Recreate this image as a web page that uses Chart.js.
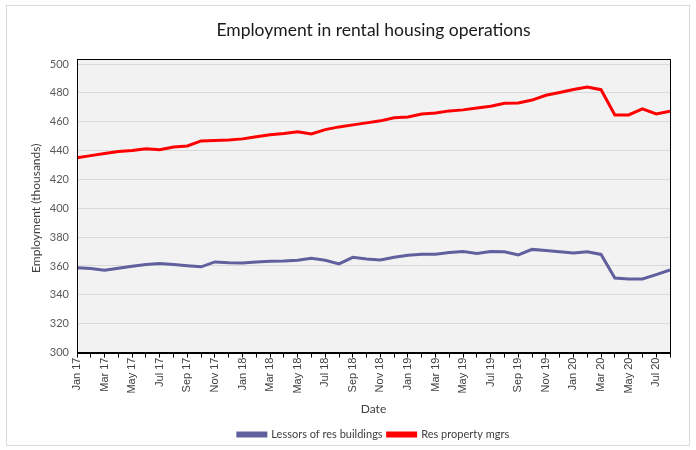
<!DOCTYPE html>
<html lang="en">
<head>
  <meta charset="UTF-8">
  <title>Employment in rental housing operations</title>
  <script src="https://cdn.jsdelivr.net/npm/chart.js"></script>
  <style>
    body {
      margin: 0;
      background-color: #ffffff;
    }
    canvas {
      display: block;
    }
  </style>
</head>
<body>

  <canvas id="empChart" width="696" height="450"></canvas>

  <script>
    const months = [
      "Jan 17", "Feb 17", "Mar 17", "Apr 17", "May 17", "Jun 17", "Jul 17", "Aug 17", "Sep 17", "Oct 17", "Nov 17", "Dec 17",
      "Jan 18", "Feb 18", "Mar 18", "Apr 18", "May 18", "Jun 18", "Jul 18", "Aug 18", "Sep 18", "Oct 18", "Nov 18", "Dec 18",
      "Jan 19", "Feb 19", "Mar 19", "Apr 19", "May 19", "Jun 19", "Jul 19", "Aug 19", "Sep 19", "Oct 19", "Nov 19", "Dec 19",
      "Jan 20", "Feb 20", "Mar 20", "Apr 20", "May 20", "Jun 20", "Jul 20", "Aug 20"
    ];

    const lessors = [
      358.8, 358.2, 357, 358.4, 359.8, 361, 361.7, 361, 360.2, 359.4, 362.8, 362.2,
      362, 362.7, 363.3, 363.4, 364, 365.3, 364, 361.4, 366, 364.8, 364.1, 366,
      367.4, 368.2, 368.2, 369.3, 370, 368.7, 370, 369.8, 367.6, 371.5, 370.8, 369.8,
      369, 369.8, 368, 351.7, 351, 351, 354, 357.2
    ];

    const propertyMgrs = [
      435, 436.5, 438, 439.3, 440, 441.2, 440.5, 442.5, 443.2, 446.7, 447, 447.4,
      448.1, 449.5, 450.9, 451.8, 453.1, 451.5, 454.5, 456.4, 457.8, 459.2, 460.6, 462.8,
      463.3, 465.4, 466, 467.5, 468.2, 469.5, 470.7, 472.8, 473, 475, 478.3, 480.2,
      482.3, 484, 482.2, 464.7, 464.7, 468.9, 465.4, 467.2
    ];

    const yMin = 300;
    const yMax = 500;
    const yStep = 20;

    // grey plot area (reaches a little above 500), black box, light outer border
    const frame = {
      id: 'frame',
      beforeDraw(chart) {
        const { ctx, chartArea: a } = chart;
        ctx.save();
        ctx.fillStyle = '#f2f2f2';
        ctx.fillRect(a.left, a.top - 5, a.right - a.left, a.bottom - a.top + 5);
        ctx.restore();
      },
      afterDraw(chart) {
        const { ctx, chartArea: a } = chart;
        ctx.save();
        ctx.strokeStyle = '#000000';
        ctx.lineWidth = 1;
        ctx.strokeRect(Math.round(a.left) + 0.5, Math.round(a.top - 5) + 0.5,
          Math.round(a.right - a.left), Math.round(a.bottom - a.top + 5));
        ctx.strokeStyle = '#d9d9d9';
        ctx.strokeRect(6.5, 5.5, 683, 440);
        ctx.restore();
      }
    };

    const ctx = document.getElementById('empChart').getContext('2d');

    const empChart = new Chart(ctx, {
      type: 'line',
      data: {
        labels: months,
        datasets: [{
          label: 'Lessors of res buildings',
          data: lessors,
          borderColor: '#60609e',
          backgroundColor: '#60609e',
          borderWidth: 3,
          pointRadius: 0,
          tension: 0
        }, {
          label: 'Res property mgrs',
          data: propertyMgrs,
          borderColor: '#ff0000',
          backgroundColor: '#ff0000',
          borderWidth: 3,
          pointRadius: 0,
          tension: 0
        }]
      },
      options: {
        responsive: false,
        animation: false,
        layout: {
          padding: { left: 10, right: 26, top: 0, bottom: 0 }
        },
        plugins: {
          title: {
            display: true,
            fullSize: false,
            text: 'Employment in rental housing operations',
            color: '#1a1a1a',
            font: { family: 'Lato', size: 17.5, weight: 'normal' },
            padding: { top: 20, bottom: 23 }
          },
          legend: {
            position: 'bottom',
            fullSize: false,
            labels: {
              color: '#404040',
              font: { family: 'Lato', size: 11 },
              boxWidth: 28,
              boxHeight: 3,
              padding: 5
            }
          },
          tooltip: { enabled: false }
        },
        scales: {
          x: {
            offset: false,
            grid: {
              drawOnChartArea: false,
              drawTicks: true,
              tickLength: 5,
              tickColor: '#000000'
            },
            border: { color: '#000000' },
            ticks: {
              autoSkip: false,
              maxRotation: 90,
              minRotation: 90,
              padding: 0,
              color: '#404040',
              font: { family: 'Liberation Sans', size: 11 },
              callback: function (value, index) {
                return index % 2 === 0 ? this.getLabelForValue(value) : '';
              }
            },
            title: {
              display: true,
              text: 'Date',
              color: '#404040',
              font: { family: 'Lato', size: 12 },
              padding: { top: 8, bottom: 8 }
            }
          },
          y: {
            min: yMin,
            max: yMax,
            afterFit(scale) { scale.width = 67; },
            grid: {
              color: '#d9d9d9',
              drawTicks: false
            },
            border: { color: '#000000' },
            ticks: {
              stepSize: yStep,
              padding: 8,
              color: '#595959',
              font: { family: 'Lato', size: 11 }
            },
            title: {
              display: true,
              text: 'Employment (thousands)',
              color: '#404040',
              font: { family: 'Lato', size: 12 },
              padding: { top: 19, bottom: 0 }
            }
          }
        }
      },
      plugins: [frame]
    });
  </script>

</body>
</html>
